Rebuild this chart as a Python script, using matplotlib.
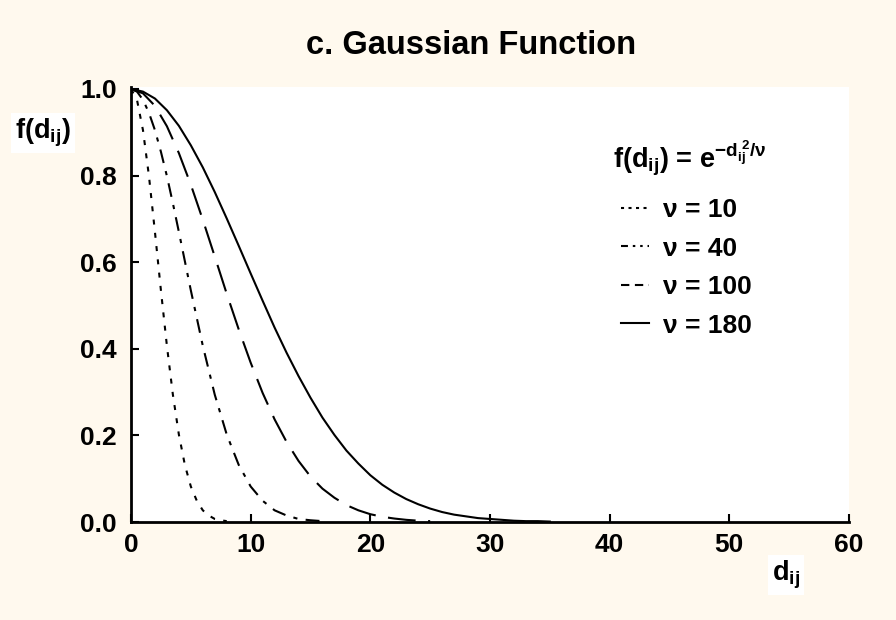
import matplotlib
matplotlib.use("Agg")
import matplotlib.pyplot as plt
from matplotlib.lines import Line2D

plt.rcParams['font.family'] = ['Liberation Sans', 'DejaVu Sans']
plt.rcParams['font.weight'] = 'bold'
plt.rcParams['mathtext.fontset'] = 'custom'
plt.rcParams['mathtext.rm'] = 'Liberation Sans:bold'
plt.rcParams['mathtext.it'] = 'Liberation Sans:bold'
plt.rcParams['mathtext.bf'] = 'Liberation Sans:bold'
plt.rcParams['mathtext.default'] = 'rm'
plt.rcParams['lines.scale_dashes'] = False

# values
d_10 = [0, 0.5, 1, 1.5, 2, 2.5, 3, 3.5, 4, 4.5, 5, 5.5, 6, 6.5, 7, 7.5, 8]
f_10 = [1.0, 0.975, 0.905, 0.799, 0.670, 0.535, 0.407, 0.294, 0.202, 0.132,
        0.082, 0.049, 0.027, 0.015, 0.007, 0.004, 0.002]

d_40 = [0, 0.5, 1, 1.5, 2, 2.5, 3, 3.5, 4, 5, 6, 7, 8, 9, 10, 11, 12, 13, 14, 15, 16]
f_40 = [1.0, 0.994, 0.975, 0.945, 0.905, 0.855, 0.799, 0.736, 0.670, 0.535, 0.407,
        0.294, 0.202, 0.132, 0.082, 0.049, 0.027, 0.015, 0.007, 0.004, 0.002]

d_100 = [0, 1, 2, 3, 4, 5, 6, 7, 8, 9, 10, 11, 12, 13, 14, 15, 16, 17, 18, 19,
         20, 21, 22, 23, 24, 25]
f_100 = [1.0, 0.990, 0.961, 0.914, 0.852, 0.779, 0.698, 0.613, 0.527, 0.445,
         0.368, 0.298, 0.237, 0.185, 0.141, 0.105, 0.077, 0.056, 0.039, 0.027,
         0.018, 0.012, 0.008, 0.005, 0.003, 0.002]

d_180 = [0, 1, 2, 3, 4, 5, 6, 7, 8, 9, 10, 11, 12, 13, 14, 15, 16, 17, 18, 19,
         20, 21, 22, 23, 24, 25, 26, 27, 28, 29, 30, 31, 32, 33, 34, 35]
f_180 = [1.0, 0.994, 0.978, 0.951, 0.915, 0.870, 0.819, 0.762, 0.701, 0.638,
         0.574, 0.511, 0.449, 0.391, 0.337, 0.287, 0.241, 0.201, 0.165, 0.135,
         0.108, 0.086, 0.068, 0.053, 0.041, 0.031, 0.023, 0.017, 0.013, 0.009,
         0.007, 0.005, 0.003, 0.002, 0.002, 0.001]

legend_labels = ['ν = 10', 'ν = 40', 'ν = 100', 'ν = 180']
x_ticks = [0, 10, 20, 30, 40, 50, 60]
y_ticks = [0.0, 0.2, 0.4, 0.6, 0.8, 1.0]

bg = '#FFF9EE'
fig = plt.figure(figsize=(8.96, 6.2), dpi=100, facecolor=bg)
ax = fig.add_axes([131/896, 1 - 522/620, (849 - 131)/896, (522 - 87)/620])
ax.set_facecolor('white')

styles = [(0, (3.6, 6)), (0, (10, 6, 3, 6)), (0, (20, 9)), '-']
legend_styles = [(0, (2.2, 3.2)), (0, (5, 3.5, 1.8, 3.5, 1.8, 3.5)), (0, (6, 4)), '-']
series = [(d_10, f_10), (d_40, f_40), (d_100, f_100), (d_180, f_180)]
handles = []
for (dx, fy), ls, lls, lab in zip(series, styles, legend_styles, legend_labels):
    ax.plot(dx, fy, color='black', lw=1.5, linestyle=ls, label=lab)
    handles.append(Line2D([], [], color='black', lw=1.5, linestyle=lls, label=lab))

ax.set_xlim(0, 60)
ax.set_ylim(0, 1.0 * (522 - 87) / (522 - 89))
ax.set_xticks(x_ticks)
ax.set_yticks(y_ticks)
ax.set_xticklabels([str(t) for t in x_ticks])
ax.set_yticklabels([f'{t:.1f}' for t in y_ticks])
for s in ['top', 'right']:
    ax.spines[s].set_visible(False)
for s in ['left', 'bottom']:
    ax.spines[s].set_linewidth(2)
ax.tick_params(direction='in', length=6, width=1.5, labelsize=19)
ax.tick_params(axis='x', pad=8)
ax.tick_params(axis='y', pad=10)
for lab in ax.get_xticklabels() + ax.get_yticklabels():
    lab.set_fontweight('bold')

fig.text(471/896, 1 - 45/620, 'c. Gaussian Function', ha='center', va='center',
         fontsize=23.5, fontweight='bold')

fig.text(43/896, 1 - 133/620, r'f(d$_{\mathregular{ij}}$)', ha='center', va='center',
         fontsize=19.5, fontweight='bold',
         bbox=dict(facecolor='white', edgecolor='none', pad=3))
fig.text(786/896, 1 - 575/620, r'd$_{\mathregular{ij}}$', ha='center', va='center',
         fontsize=19.5, fontweight='bold',
         bbox=dict(facecolor='white', edgecolor='none', pad=3))

fig.text(613/896, 1 - 158/620,
         r'f(d$_{\mathregular{ij}}$) = e$^{\mathregular{-d}_{\mathregular{ij}}^{\ 2}\mathregular{/}\nu}$',
         fontsize=19.5, fontweight='bold', va='center', ha='left')

leg = ax.legend(handles=handles, loc='upper left',
                bbox_to_anchor=((621 - 131)/718, (522 - 198)/435),
                frameon=False, fontsize=19, handlelength=1.05, handletextpad=0.55,
                labelspacing=0.55, borderpad=0, borderaxespad=0)
for txt in leg.get_texts():
    txt.set_fontweight('bold')

fig.savefig('out.png', dpi=100, facecolor=bg)
